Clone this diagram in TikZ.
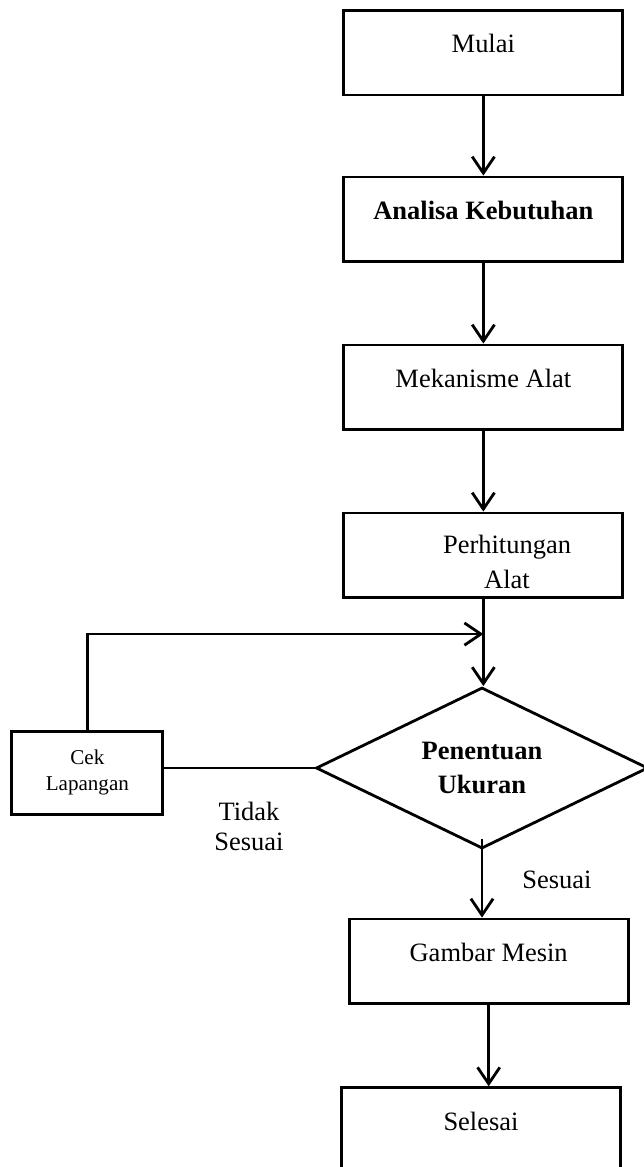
\documentclass[tikz,border=0pt]{standalone}
\usepackage{fontspec}
\setmainfont{Liberation Serif}
\usetikzlibrary{arrows.meta,shapes.geometric,calc}

\begin{document}
\begin{tikzpicture}[
    line/.style={line width=1.2pt},
    arr/.style={line width=1.2pt, -{Straight Barb[length=7pt,width=9.5pt]}},
    stepbox/.style={draw, line width=1.2pt, minimum width=4.185cm, minimum height=1.27cm, text height=1.2ex, text depth=1.2ex, font=\fontsize{11.3}{14.8}\selectfont},
    decision/.style={diamond, draw, line width=1.2pt, aspect=2, minimum width=4.98cm, minimum height=2.415cm, inner sep=0pt, align=center, font=\bfseries\fontsize{11.3}{14.8}\selectfont},
    cekbox/.style={draw, line width=1.2pt, minimum width=2.265cm, minimum height=1.245cm, align=center, font=\fontsize{9}{11.1}\selectfont},
    lbl/.style={align=center, font=\fontsize{11.3}{12.8}\selectfont}
  ]
  \useasboundingbox (0,0) rectangle (9.645,-17.505);

  \node[stepbox] (mulai) at (7.25,-0.79) {Mulai};
  \node[stepbox, font=\bfseries\fontsize{11.3}{14.8}\selectfont] (analisa) at (7.25,-3.29) {Analisa Kebutuhan};
  \node[stepbox] (mekanisme) at (7.25,-5.81) {Mekanisme Alat};
  \node[stepbox, align=center, text height=0.98cm, text depth=0pt] (hitung) at (7.25,-8.33) {\hspace*{0.71cm}Perhitungan\\\hspace*{0.71cm}Alat};
  \node[decision] (ukuran) at (7.23,-11.52) {Penentuan\\Ukuran};
  \node[cekbox] (cek) at (1.31,-11.59) {Cek\\Lapangan};
  \node[stepbox] (gambar) at (7.33,-14.42) {Gambar Mesin};
  \node[stepbox] (selesai) at (7.215,-16.95) {Selesai};
  \node[lbl] (tidak) at (3.735,-12.4) {Tidak\\Sesuai};
  \node[lbl] (sesuai) at (8.355,-13.2) {Sesuai};

  \coordinate (balik) at ([yshift=-0.525cm]hitung.south);

  \draw[arr] (mulai) -- (analisa);
  \draw[arr] (analisa) -- (mekanisme);
  \draw[arr] (mekanisme) -- (hitung);
  \draw[arr] (hitung.south) -- (hitung.south |- ukuran.north);
  \draw[arr] (cek.north) |- (balik);
  \draw[line] (cek.east |- ukuran.west) -- (ukuran.west);
  \draw[arr] ([yshift=0.17cm]ukuran.south) -- (ukuran.south |- gambar.north);
  \draw[arr] (gambar.south) -- (gambar.south |- selesai.north);
\end{tikzpicture}
\end{document}
